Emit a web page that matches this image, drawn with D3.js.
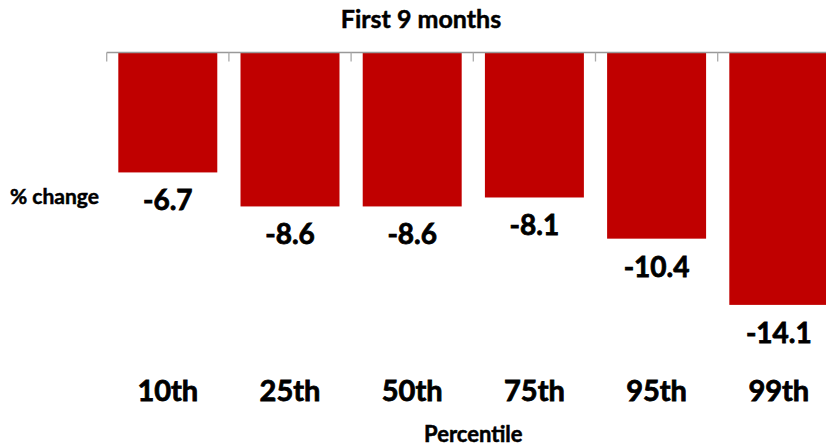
<!DOCTYPE html>
<html>
<head>
<meta charset="utf-8">
<script src="https://cdn.jsdelivr.net/npm/d3@7"></script>
<style>
  body { margin: 0; background: #fff; }
  text { font-family: Lato, "Open Sans", sans-serif; font-weight: bold; fill: #000; stroke: #000; stroke-width: 0.5px; }
</style>
</head>
<body>
<div id="chart"></div>
<script>
var categories = ['10th', '25th', '50th', '75th', '95th', '99th'];
var values = [-6.7, -8.6, -8.6, -8.1, -10.4, -14.1];

var width = 826,
	height = 447,
	x0 = 106.7,
	step = 122.2,
	zeroY = 52.5,
	pxPerUnit = 17.9;

var svg = d3.select('#chart').append('svg')
	.attr('width', width)
	.attr('height', height);

var x = d3.scaleBand()
	.domain(categories)
	.range([x0, x0 + step * categories.length])
	.paddingInner(0.19)
	.paddingOuter(0.095);

var y = d3.scaleLinear()
	.domain([0, -10])
	.range([zeroY, zeroY + pxPerUnit * 10]);

// bars hang down from zero
svg.selectAll('.bar')
	.data(values)
	.enter().append('rect')
	.attr('class', 'bar')
	.attr('x', function (d, i) { return x(categories[i]); })
	.attr('y', y(0))
	.attr('width', x.bandwidth())
	.attr('height', function (d) { return y(d) - y(0); })
	.style('fill', '#c00000');

// axis along the top with ticks at band edges
var edges = d3.range(categories.length + 1).map(function (i) { return x0 + i * x.step(); });
svg.append('line')
	.attr('x1', x0).attr('x2', width)
	.attr('y1', zeroY).attr('y2', zeroY)
	.style('stroke', '#999').style('stroke-width', 1.3);
svg.selectAll('.tick')
	.data(edges)
	.enter().append('line')
	.attr('x1', function (d) { return d; })
	.attr('x2', function (d) { return d; })
	.attr('y1', zeroY).attr('y2', zeroY + 9)
	.style('stroke', '#aaa').style('stroke-width', 1.3);

// value labels below bars
svg.selectAll('.val')
	.data(values)
	.enter().append('text')
	.attr('class', 'val')
	.attr('x', function (d, i) { return x(categories[i]) + x.bandwidth() / 2; })
	.attr('y', function (d) { return y(d) + 38; })
	.attr('text-anchor', 'middle')
	.style('font-size', '28px')
	.style('stroke-width', '0.8px')
	.text(function (d) { return d.toFixed(1); });

// category labels
svg.selectAll('.cat')
	.data(categories)
	.enter().append('text')
	.attr('class', 'cat')
	.attr('x', function (d) { return x(d) + x.bandwidth() / 2; })
	.attr('y', 401)
	.attr('text-anchor', 'middle')
	.style('font-size', '29px')
	.style('stroke-width', '0.8px')
	.text(function (d) { return d; });

svg.append('text')
	.text('First 9 months')
	.attr('x', 421)
	.attr('y', 28)
	.attr('text-anchor', 'middle')
	.style('font-size', '25px');

svg.append('text')
	.text('% change')
	.attr('x', 10)
	.attr('y', 204)
	.style('font-size', '21px');

svg.append('text')
	.text('Percentile')
	.attr('x', (x0 + x0 + step * categories.length) / 2)
	.attr('y', 442)
	.attr('text-anchor', 'middle')
	.style('font-size', '22px');
</script>
</body>
</html>
